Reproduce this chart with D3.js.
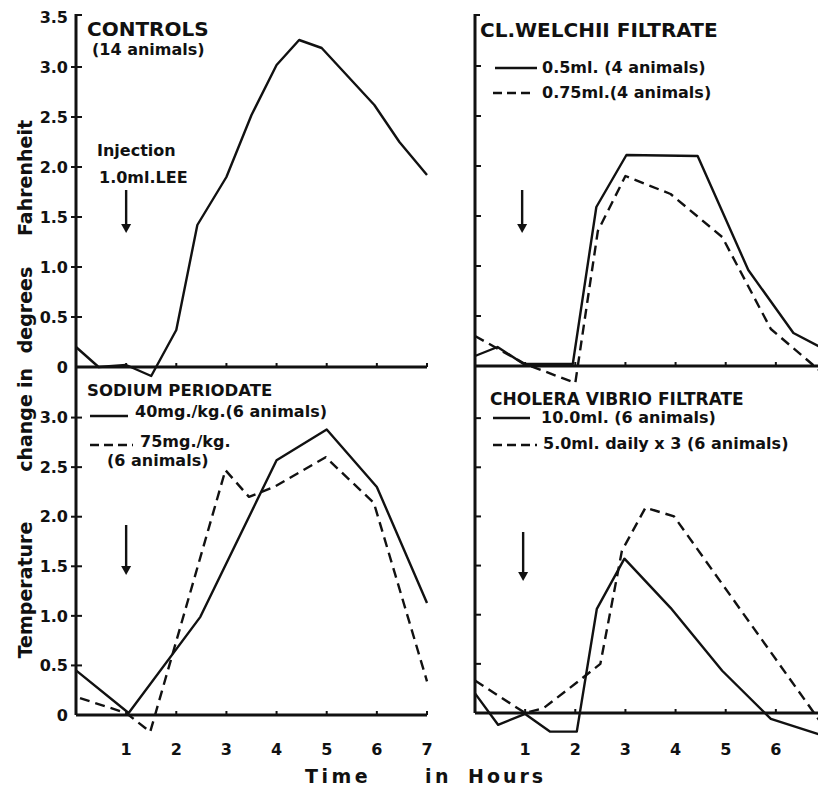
<!DOCTYPE html>
<html>
<head>
<meta charset="utf-8">
<script src="https://cdn.jsdelivr.net/npm/d3@7"></script>
<style>
  body { margin: 0; background: #fff; }
  svg text { font-family: "DejaVu Sans", sans-serif; font-weight: bold; fill: #111; }
</style>
</head>
<body>
<div id="container"></div>
<script>
/**
 * DATA
 * */
const hourTicks = [1, 2, 3, 4, 5, 6, 7]
const topTicks = [0, 0.5, 1, 1.5, 2, 2.5, 3]
const topTickLabels = ["0", "0.5", "1.0", "1.5", "2.0", "2.5", "3.0"]

// Controls
const controlsHours = [0, 0.45, 1, 1.5, 2, 2.42, 3, 3.5, 4, 4.45, 4.9, 5.95, 6.45, 7]
const controlsTemp = [0.2, 0.0, 0.02, -0.09, 0.37, 1.42, 1.9, 2.52, 3.02, 3.27, 3.19, 2.62, 2.25, 1.92]

// Cl. welchii filtrate
const welchii05Hours = [0, 0.45, 0.97, 1.95, 2.42, 3.02, 4.44, 5.45, 6.35, 7]
const welchii05Temp = [0.1, 0.19, 0.02, 0.02, 1.59, 2.11, 2.1, 0.96, 0.33, 0.16]
const welchii075Hours = [0, 0.5, 1, 2, 2.45, 3, 3.9, 4.93, 5.9, 7]
const welchii075Temp = [0.3, 0.16, 0.02, -0.17, 1.35, 1.9, 1.72, 1.29, 0.37, -0.1]

// Sodium periodate
const sodium40Hours = [0, 1.05, 2.48, 4, 5, 6, 7]
const sodium40Temp = [0.45, 0.02, 0.99, 2.57, 2.88, 2.3, 1.13]
const sodium75Hours = [0.08, 1, 1.48, 2.98, 3.45, 3.95, 4.98, 5.94, 7]
const sodium75Temp = [0.17, 0.02, -0.17, 2.47, 2.2, 2.3, 2.6, 2.14, 0.34]

// Cholera vibrio filtrate
const cholera10Hours = [0, 0.46, 1, 1.5, 2.03, 2.43, 2.98, 3.9, 4.93, 5.9, 7]
const cholera10Temp = [0.2, -0.12, -0.01, -0.19, -0.19, 1.06, 1.57, 1.07, 0.43, -0.06, -0.24]
const cholera5Hours = [0, 1, 1.37, 2.03, 2.5, 2.93, 3.4, 3.97, 7]
const cholera5Temp = [0.33, 0, 0.05, 0.31, 0.5, 1.65, 2.09, 2.0, -0.17]

/**
 * CONSTANTS
 * */
const w = 818
const h = 787
const dash = "10,6"

const svg = d3.select("#container")
    .append("svg")
    .attr("width", w)
    .attr("height", h)

// Scales (one pair per panel)
const xLeft = d3.scaleLinear().domain([0, 7]).range([76, 427])
const xRight = d3.scaleLinear().domain([0, 7]).range([475, 826])
const yTopL = d3.scaleLinear().domain([0, 3.5]).range([367, 17])
const yTopR = d3.scaleLinear().domain([0, 3.5]).range([366, 16])
const yBotL = d3.scaleLinear().domain([0, 3.5]).range([715, 368])
const yBotR = d3.scaleLinear().domain([0, 3.5]).range([713, 369])

const zip = (hs, ts) => hs.map((d, i) => [d, ts[i]])

function drawLine(x, y, hs, ts, dashed) {
    const line = d3.line().x(d => x(d[0])).y(d => y(d[1]))
    svg.append("path")
        .datum(zip(hs, ts))
        .attr("d", line)
        .attr("fill", "none")
        .attr("stroke", "#111")
        .attr("stroke-width", 2.4)
        .attr("stroke-linejoin", "round")
        .attr("stroke-dasharray", dashed ? dash : null)
}

function drawBaseline(x, y, xEnd) {
    svg.append("line")
        .attr("x1", x(0)).attr("x2", xEnd)
        .attr("y1", y(0)).attr("y2", y(0))
        .attr("stroke", "#111").attr("stroke-width", 3)
    svg.selectAll(null)
        .data(hourTicks.filter(d => x(d) <= xEnd + 1))
        .join("line")
        .attr("x1", d => x(d)).attr("x2", d => x(d))
        .attr("y1", y(0)).attr("y2", y(0) - 4)
        .attr("stroke", "#111").attr("stroke-width", 2)
}

function drawYTicks(x, y, ticks, left) {
    svg.selectAll(null)
        .data(ticks)
        .join("line")
        .attr("x1", x(0) - (left ? 5 : 0)).attr("x2", x(0) + 6)
        .attr("y1", d => y(d)).attr("y2", d => y(d))
        .attr("stroke", "#111").attr("stroke-width", 2)
}

function drawArrow(x0, yTop, yBot) {
    svg.append("line")
        .attr("x1", x0).attr("x2", x0)
        .attr("y1", yTop).attr("y2", yBot - 6)
        .attr("stroke", "#111").attr("stroke-width", 2.4)
    svg.append("path")
        .attr("d", `M${x0 - 5},${yBot - 9}L${x0 + 5},${yBot - 9}L${x0},${yBot}Z`)
        .attr("fill", "#111")
}

function text(x, y, str, size, anchor) {
    return svg.append("text")
        .attr("x", x).attr("y", y)
        .attr("font-size", size)
        .attr("text-anchor", anchor || "start")
        .text(str)
}

function legendLine(x1, x2, y, dashed) {
    svg.append("line")
        .attr("x1", x1).attr("x2", x2)
        .attr("y1", y).attr("y2", y)
        .attr("stroke", "#111").attr("stroke-width", 2.4)
        .attr("stroke-dasharray", dashed ? "9,5" : null)
}

/**
 * AXES
 * */
// left vertical axis runs through both left panels
svg.append("line")
    .attr("x1", xLeft(0)).attr("x2", xLeft(0))
    .attr("y1", 14).attr("y2", yBotL(0))
    .attr("stroke", "#111").attr("stroke-width", 3)
svg.append("line")
    .attr("x1", xRight(0)).attr("x2", xRight(0))
    .attr("y1", 14).attr("y2", yBotR(0))
    .attr("stroke", "#111").attr("stroke-width", 3)

// top brackets
svg.append("line").attr("x1", xLeft(0)).attr("x2", xLeft(0) + 6)
    .attr("y1", 15).attr("y2", 15).attr("stroke", "#111").attr("stroke-width", 2)
svg.append("line").attr("x1", xRight(0)).attr("x2", xRight(0) + 5)
    .attr("y1", 15).attr("y2", 15).attr("stroke", "#111").attr("stroke-width", 2)

drawYTicks(xLeft, yTopL, topTicks.slice(1), true)
drawYTicks(xLeft, yBotL, topTicks.slice(1), true)
drawYTicks(xRight, yTopR, topTicks.slice(1), false)
drawYTicks(xRight, yBotR, topTicks.slice(1), false)

drawBaseline(xLeft, yTopL, xLeft(7))
drawBaseline(xLeft, yBotL, xLeft(7))
drawBaseline(xRight, yTopR, w)
drawBaseline(xRight, yBotR, w)

// y tick labels
svg.selectAll(null)
    .data(topTicks.concat([3.5]))
    .join("text")
    .attr("x", 68).attr("y", d => yTopL(d))
    .attr("dy", "0.36em")
    .attr("font-size", 16)
    .attr("text-anchor", "end")
    .text((d, i) => i < topTickLabels.length ? topTickLabels[i] : "3.5")
svg.selectAll(null)
    .data(topTicks)
    .join("text")
    .attr("x", 68).attr("y", d => yBotL(d))
    .attr("dy", "0.36em")
    .attr("font-size", 16)
    .attr("text-anchor", "end")
    .text((d, i) => topTickLabels[i])

// x tick labels
svg.selectAll(null)
    .data(hourTicks)
    .join("text")
    .attr("x", d => xLeft(d)).attr("y", 755)
    .attr("font-size", 16).attr("text-anchor", "middle")
    .text(d => d)
svg.selectAll(null)
    .data(hourTicks)
    .join("text")
    .attr("x", d => xRight(d)).attr("y", 755)
    .attr("font-size", 16).attr("text-anchor", "middle")
    .text(d => d)

// axis titles
text(305, 783, "Time", 19).attr("letter-spacing", 3.5)
text(425, 783, "in", 19).attr("letter-spacing", 3.5)
text(468, 783, "Hours", 19).attr("letter-spacing", 3)

const yWords = [["Fahrenheit", 178], ["degrees", 310], ["in", 378], ["change", 433], ["Temperature", 590]]
yWords.forEach(([word, cy]) => {
    svg.append("text")
        .attr("transform", `translate(32,${cy}) rotate(-90)`)
        .attr("font-size", 19)
        .attr("text-anchor", "middle")
        .text(word)
})

/**
 * DATA LINES
 * */
drawLine(xLeft, yTopL, controlsHours, controlsTemp, false)
drawLine(xRight, yTopR, welchii05Hours, welchii05Temp, false)
drawLine(xRight, yTopR, welchii075Hours, welchii075Temp, true)
drawLine(xLeft, yBotL, sodium40Hours, sodium40Temp, false)
drawLine(xLeft, yBotL, sodium75Hours, sodium75Temp, true)
drawLine(xRight, yBotR, cholera10Hours, cholera10Temp, false)
drawLine(xRight, yBotR, cholera5Hours, cholera5Temp, true)

/**
 * ANNOTATIONS
 * */
text(87, 36, "CONTROLS", 20)
text(92, 55, "(14 animals)", 16)
text(97, 156, "Injection", 16)
text(99, 183, "1.0ml.LEE", 16)
drawArrow(xLeft(1), 190, 233)

text(480, 37, "CL.WELCHII FILTRATE", 20)
legendLine(495, 537, 68, false)
text(542, 73, "0.5ml. (4 animals)", 16)
legendLine(493, 535, 93, true)
text(542, 98, "0.75ml.(4 animals)", 16)
drawArrow(xRight(1) - 3, 190, 233)

text(87, 396, "SODIUM PERIODATE", 16.5)
legendLine(90, 128, 416, false)
text(135, 417, "40mg./kg.(6 animals)", 16)
legendLine(90, 133, 445, true)
text(140, 447, "75mg./kg.", 16)
text(107, 466, "(6 animals)", 16)
drawArrow(xLeft(1), 525, 575)

text(490, 405, "CHOLERA VIBRIO FILTRATE", 17)
legendLine(493, 530, 418, false)
text(541, 423, "10.0ml. (6 animals)", 16)
legendLine(493, 537, 445, true)
text(543, 449, "5.0ml. daily x 3 (6 animals)", 16)
drawArrow(xRight(1) - 2, 532, 581)
</script>
</body>
</html>
